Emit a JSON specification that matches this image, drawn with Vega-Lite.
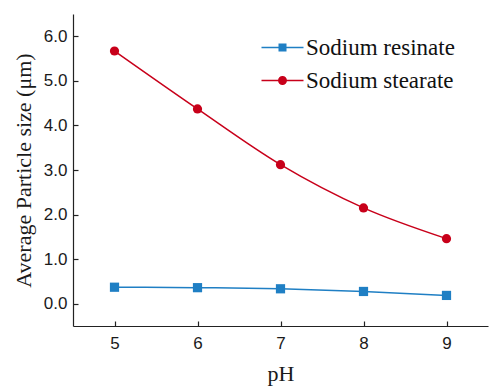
{
  "$schema": "https://vega.github.io/schema/vega-lite/v6.json",
  "autosize": "none",
  "width": 415,
  "height": 312,
  "padding": {"left": 73, "top": 14, "right": 2, "bottom": 61},
  "background": "white",
  "config": {
    "view": {"stroke": null},
    "axis": {
      "grid": false,
      "labelFont": "Liberation Sans",
      "labelFontSize": 17,
      "labelColor": "#1a1a1a",
      "domainColor": "#222",
      "domainWidth": 1.2,
      "tickColor": "#222",
      "tickWidth": 1.2,
      "titleFont": "Liberation Serif",
      "titleFontSize": 22,
      "titleFontWeight": "normal",
      "titleColor": "#1a1a1a"
    },
    "legend": {
      "labelFont": "Liberation Serif",
      "labelFontSize": 23,
      "labelColor": "#111",
      "title": null,
      "orient": "none",
      "padding": 0,
      "symbolSize": 400,
      "symbolStrokeWidth": 0,
      "symbolOpacity": 1,
      "labelOffset": 12
    }
  },
  "data": {
    "values": [
      {"pH": 5, "size": 0.37, "series": "Sodium resinate"},
      {"pH": 6, "size": 0.36, "series": "Sodium resinate"},
      {"pH": 7, "size": 0.335, "series": "Sodium resinate"},
      {"pH": 8, "size": 0.275, "series": "Sodium resinate"},
      {"pH": 9, "size": 0.186, "series": "Sodium resinate"},
      {"pH": 5, "size": 5.67, "series": "Sodium stearate"},
      {"pH": 6, "size": 4.37, "series": "Sodium stearate"},
      {"pH": 7, "size": 3.12, "series": "Sodium stearate"},
      {"pH": 8, "size": 2.15, "series": "Sodium stearate"},
      {"pH": 9, "size": 1.46, "series": "Sodium stearate"}
    ]
  },
  "encoding": {
    "x": {
      "field": "pH", "type": "quantitative",
      "scale": {"domain": [4.5, 9.5], "nice": false, "zero": false},
      "axis": {"values": [5, 6, 7, 8, 9], "tickSize": -5, "labelPadding": 14, "title": "pH", "titlePadding": 12}
    },
    "y": {
      "field": "size", "type": "quantitative",
      "scale": {"domain": [-0.5, 6.5], "nice": false, "zero": false},
      "axis": {"values": [0, 1, 2, 3, 4, 5, 6], "format": ".1f", "tickSize": -5, "labelPadding": 11, "title": "Average Particle size (μm)", "titlePadding": 8}
    }
  },
  "layer": [
    {
      "mark": {"type": "line", "interpolate": "monotone", "strokeWidth": 1.5},
      "encoding": {
        "color": {
          "field": "series", "type": "nominal",
          "scale": {"domain": ["Sodium resinate", "Sodium stearate"], "range": ["#1f7fc4", "#c8001a"]},
          "legend": null
        }
      }
    },
    {
      "mark": {"type": "point", "filled": true, "opacity": 1},
      "encoding": {
        "color": {
          "field": "series", "type": "nominal",
          "scale": {"domain": ["Sodium resinate", "Sodium stearate"], "range": ["#1f7fc4", "#c8001a"]},
          "legend": null
        },
        "shape": {
          "field": "series", "type": "nominal",
          "scale": {"domain": ["Sodium resinate", "Sodium stearate"], "range": ["square", "circle"]},
          "legend": null
        },
        "size": {"value": 85}
      }
    },
    {
      "transform": [{"filter": "datum.series === 'Sodium resinate'"}],
      "mark": {"type": "point", "filled": true, "opacity": 0},
      "encoding": {
        "color": {
          "field": "series", "type": "nominal",
          "scale": {"domain": ["Sodium resinate"], "range": ["#1f7fc4"]},
          "legend": {
            "legendX": 198,
            "legendY": 22,
            "symbolType": "M-2.1,-0.07H2.1V0.07H-2.1Z M-0.4,-0.4H0.4V0.4H-0.4Z"
          }
        }
      }
    },
    {
      "transform": [{"filter": "datum.series === 'Sodium stearate'"}],
      "mark": {"type": "point", "filled": true, "opacity": 0},
      "encoding": {
        "color": {
          "field": "series", "type": "nominal",
          "scale": {"domain": ["Sodium stearate"], "range": ["#c8001a"]},
          "legend": {
            "legendX": 198,
            "legendY": 55,
            "symbolType": "M-2.1,-0.07H2.1V0.07H-2.1Z M0.45,0 A0.45,0.45 0 1,1 -0.45,0 A0.45,0.45 0 1,1 0.45,0 Z"
          }
        }
      }
    }
  ],
  "resolve": {"scale": {"color": "independent", "shape": "independent"}, "legend": {"color": "independent"}}
}
